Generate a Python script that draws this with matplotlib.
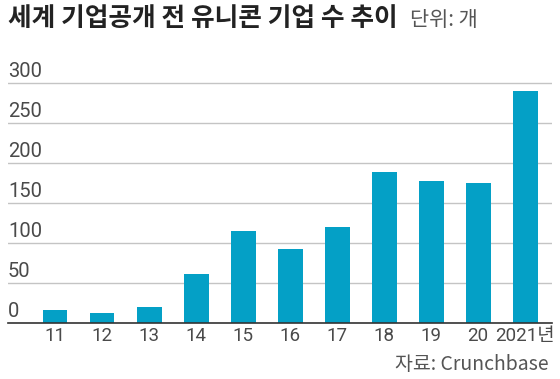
import matplotlib
matplotlib.use("Agg")
import matplotlib.pyplot as plt
import matplotlib.transforms as mtransforms

plt.rcParams['font.family'] = ['Noto Sans CJK KR', 'DejaVu Sans']
NUMFONT = ['Roboto', 'Noto Sans CJK KR', 'DejaVu Sans']

categories = ["11", "12", "13", "14", "15", "16", "17", "18", "19", "20", "2021년"]
values = [16, 12, 20, 61, 115, 92, 120, 189, 177, 175, 290]
yticks = [0, 50, 100, 150, 200, 250, 300]
title = "세계 기업공개 전 유니콘 기업 수 추이"
unit = "단위: 개"
source = "자료: Crunchbase"

W, H = 560, 379
fig = plt.figure(figsize=(W / 100, H / 100), dpi=100)
fig.patch.set_facecolor("white")

left_px, right_px = 8, 552
zero_px, top_px = 323, 75
ax = fig.add_axes([left_px / W, (H - zero_px) / H, (right_px - left_px) / W, (zero_px - top_px) / H])
ax.set_facecolor("white")

x = list(range(len(categories)))
ax.bar(x, values, width=0.53, color="#04a0c6", zorder=3)
ax.set_xlim(-1.0, 10.57)
ax.set_ylim(0, 310)

for s in ["top", "right", "left"]:
    ax.spines[s].set_visible(False)
ax.spines["bottom"].set_color("#333333")
ax.spines["bottom"].set_linewidth(1.2)
ax.spines["bottom"].set_zorder(4)

ax.set_yticks(yticks)
ax.set_yticklabels([])
ax.tick_params(axis="y", length=0)
ax.grid(axis="y", color="#c4c4c4", linewidth=1.0, zorder=0)

trans = mtransforms.blended_transform_factory(ax.transAxes, ax.transData)
for v in yticks:
    ax.text(0.0, v + 2, str(v), transform=trans, ha="left", va="bottom",
            fontsize=14.5, color="#4a4a4a", fontweight="normal", family=NUMFONT)

ax.set_xticks(x)
ax.set_xticklabels(categories, fontsize=13.5, color="#4a4a4a", fontweight="normal", family=NUMFONT)
ax.tick_params(axis="x", length=0, pad=3)

fig.text(8 / W, 1 - 18 / H, title, ha="left", va="center", fontsize=18.5,
         fontweight="bold", color="#222222")
fig.text(410 / W, 1 - 20 / H, unit, ha="left", va="center", fontsize=15,
         color="#555555", fontweight="light")
fig.text(549 / W, 1 - 364 / H, source, ha="right", va="center", fontsize=14,
         color="#555555", fontweight="light")

fig.savefig("out.png", dpi=100, facecolor="white")
